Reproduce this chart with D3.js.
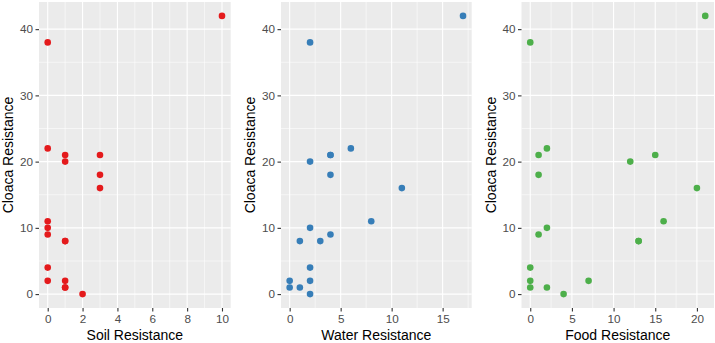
<!DOCTYPE html>
<html><head><meta charset="utf-8">
<script src="https://cdn.jsdelivr.net/npm/d3@7"></script>
<style>body{margin:0;background:#fff}svg{display:block}</style>
</head><body>
<svg id="chart" width="715" height="343"></svg>
<script>
// Data: one entry per sample
const cloaca = [42, 38, 22, 21, 21, 20, 18, 16, 11, 10, 9, 8, 8, 4, 2, 2, 1, 1, 0];
const soil   = [10, 0, 0, 1, 3, 1, 3, 3, 0, 0, 0, 1, 1, 0, 0, 1, 1, 1, 2];
const water  = [17, 2, 6, 4, 4, 2, 4, 11, 8, 2, 4, 1, 3, 2, 0, 2, 0, 1, 2];
const food   = [21, 0, 2, 1, 15, 12, 1, 20, 16, 2, 1, 13, 13, 0, 0, 7, 0, 2, 4];

const yTicks = [0, 10, 20, 30, 40];
const soilTicks = [0, 2, 4, 6, 8, 10];
const waterTicks = [0, 5, 10, 15];
const foodTicks = [0, 5, 10, 15, 20];

const panels = [
  {x: soil, label: "Soil Resistance", ticks: soilTicks, minor: [1,3,5,7,9], color: "#E41A1C", left: 39, right: 230.7},
  {x: water, label: "Water Resistance", ticks: waterTicks, minor: [2.5,7.5,12.5,17.5], color: "#377EB8", left: 281, right: 471.7},
  {x: food, label: "Food Resistance", ticks: foodTicks, minor: [2.5,7.5,12.5,17.5], color: "#4DAF4A", left: 521.5, right: 714}
];
const yMinor = [5, 15, 25, 35];
const panelTop = 2, panelBottom = 308;

const svg = d3.select("#chart");
const font = "'Liberation Sans', Arial, sans-serif";

panels.forEach(p => {
  const xmax = d3.max(p.x), xmin = d3.min(p.x);
  const xpad = (xmax - xmin) * 0.05;
  const x = d3.scaleLinear().domain([xmin - xpad, xmax + xpad]).range([p.left, p.right]);
  const ymax = d3.max(cloaca), ymin = d3.min(cloaca);
  const ypad = (ymax - ymin) * 0.05;
  const y = d3.scaleLinear().domain([ymin - ypad, ymax + ypad]).range([panelBottom, panelTop]);

  const g = svg.append("g");
  g.append("rect").attr("x", p.left).attr("y", panelTop)
    .attr("width", p.right - p.left).attr("height", panelBottom - panelTop).attr("fill", "#EBEBEB");

  // minor grid
  g.selectAll(".mx").data(p.minor).join("line").attr("class","mx")
    .attr("x1", d => x(d)).attr("x2", d => x(d)).attr("y1", panelTop).attr("y2", panelBottom)
    .attr("stroke", "#fff").attr("stroke-width", 0.55);
  g.selectAll(".my").data(yMinor).join("line").attr("class","my")
    .attr("y1", d => y(d)).attr("y2", d => y(d)).attr("x1", p.left).attr("x2", p.right)
    .attr("stroke", "#fff").attr("stroke-width", 0.55);
  // major grid
  g.selectAll(".Mx").data(p.ticks).join("line").attr("class","Mx")
    .attr("x1", d => x(d)).attr("x2", d => x(d)).attr("y1", panelTop).attr("y2", panelBottom)
    .attr("stroke", "#fff").attr("stroke-width", 1.1);
  g.selectAll(".My").data(yTicks).join("line").attr("class","My")
    .attr("y1", d => y(d)).attr("y2", d => y(d)).attr("x1", p.left).attr("x2", p.right)
    .attr("stroke", "#fff").attr("stroke-width", 1.1);

  // axes
  const xAxis = g.append("g").attr("transform", `translate(0,${panelBottom})`)
    .call(d3.axisBottom(x).tickValues(p.ticks).tickSize(3.5).tickPadding(3).tickFormat(d3.format("d")));
  const yAxis = g.append("g").attr("transform", `translate(${p.left},0)`)
    .call(d3.axisLeft(y).tickValues(yTicks).tickSize(3.5).tickPadding(2.5).tickFormat(d3.format("d")));
  [xAxis, yAxis].forEach(a => {
    a.select(".domain").remove();
    a.selectAll(".tick line").attr("stroke", "#333").attr("stroke-width", 1.1);
    a.selectAll(".tick text").attr("fill", "#4D4D4D").style("font-family", font).style("font-size", "11.7px");
  });

  // points
  g.selectAll("circle").data(p.x.map((v, i) => [v, cloaca[i]])).join("circle")
    .attr("cx", d => x(d[0])).attr("cy", d => y(d[1])).attr("r", 3.3).attr("fill", p.color);

  // titles
  g.append("text").attr("x", (p.left + p.right) / 2).attr("y", 340)
    .attr("text-anchor", "middle").style("font-family", font).style("font-size", "14px")
    .attr("fill", "#000").text(p.label);
  g.append("text").attr("transform", `translate(${p.left - 26},${(panelTop + panelBottom) / 2}) rotate(-90)`)
    .attr("text-anchor", "middle").style("font-family", font).style("font-size", "14px")
    .attr("fill", "#000").text("Cloaca Resistance");
});
</script>
</body></html>
